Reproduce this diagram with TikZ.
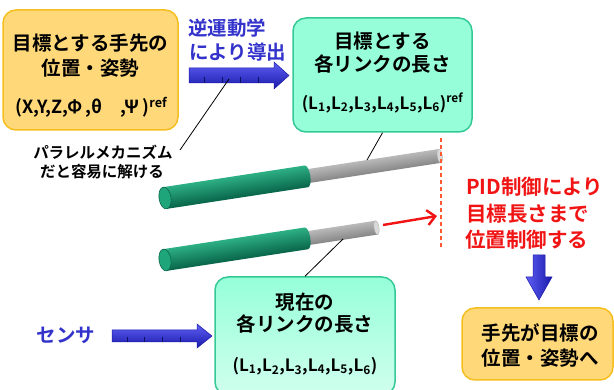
\documentclass[tikz,border=0pt]{standalone}
\usepackage{fontspec}
\setmainfont{Noto Sans CJK JP}[BoldFont=* Bold]
\usetikzlibrary{arrows.meta}

\definecolor{boxorange}{RGB}{255,216,122}
\definecolor{edgeorange}{RGB}{246,190,30}
\definecolor{boxgreen}{RGB}{150,255,218}
\definecolor{edgegreen}{RGB}{52,200,150}
\definecolor{labelblue}{RGB}{51,51,204}
\definecolor{arrowblueL}{RGB}{95,95,245}
\definecolor{arrowblueD}{RGB}{25,25,170}
\definecolor{ctrlred}{RGB}{240,20,20}
\definecolor{dashred}{RGB}{255,90,50}
\definecolor{rodgreen}{RGB}{22,150,110}
\definecolor{rodgreenL}{RGB}{45,175,132}
\definecolor{rodgreenD}{RGB}{8,100,72}
\definecolor{rodcap}{RGB}{30,165,122}

% one telescopic link: green outer tube (length #2) with a grey inner rod (total length #1)
\newcommand\drawrod[2]{%
  \shade[top color=gray!55, middle color=white, bottom color=gray!95] (#2-3,-7) rectangle (#1,7);
  \filldraw[fill=gray!30, draw=gray!60, line width=0.4pt] (#1,0) ellipse [x radius=2.5, y radius=7];
  \shade[top color=rodgreenL, middle color=rodgreen, bottom color=rodgreenD]
    (0,-11) -- (#2,-11) arc[start angle=-90, end angle=90, x radius=4, y radius=11] -- (0,11) -- cycle;
  \filldraw[fill=rodcap, draw=rodgreenD, line width=0.6pt] (0,0) ellipse [x radius=6, y radius=11];
}

\tikzset{
  box/.style={rounded corners=13pt, line width=1.5pt, inner sep=0pt},
  orangebox/.style={box, draw=edgeorange, fill=boxorange},
  greenbox/.style={box, draw=edgegreen, fill=boxgreen},
  txt/.style={font=\bfseries\fontsize{19.5}{23}\selectfont, inner sep=0pt},
  formula/.style={font=\bfseries\fontsize{17}{20}\selectfont, inner sep=0pt},
  bluetxt/.style={txt, text=labelblue},
  redtxt/.style={font=\bfseries\fontsize{20.5}{24}\selectfont, inner sep=0pt, text=ctrlred, anchor=west},
  smalltxt/.style={font=\bfseries\fontsize{15.5}{19}\selectfont, inner sep=0pt},
  bluearrow/.style={top color=arrowblueL, bottom color=arrowblueD, draw=arrowblueD, line width=0.5pt},
  tick/.style={draw=arrowblueD!60!black, line width=0.4pt},
  leader/.style={draw=black, line width=0.8pt},
}

\begin{document}
\begin{tikzpicture}[x=1pt, y=-1pt]
\useasboundingbox (0,0) rectangle (614,390);

% ---- links ----
\begin{scope}[transform canvas={shift={(165,198)}, rotate=8.7}]
  \drawrod{278}{143}
\end{scope}
\begin{scope}[transform canvas={shift={(165,260)}, rotate=8.7}]
  \drawrod{214}{143}
\end{scope}
\coordinate (rodTop) at (367,160);
\coordinate (rodBottom) at (343,239);

% ---- boxes ----
\node[orangebox, minimum width=175pt, minimum height=120pt] (goal) at (90.5,70) {};
\node[txt] (goalA) at (90.5,43) {目標とする手先の};
\node[txt] (goalB) at (90.5,68) {位置・姿勢};
\node[formula, font=\bfseries\fontsize{18}{21}\selectfont] (goalC) at (91.5,107) {(X,Y,Z,Φ\,,θ\quad,Ψ\,)\textsuperscript{ref}};

\node[greenbox, minimum width=179pt, minimum height=114pt] (target) at (382.5,75) {};
\node[txt] (targetA) at (382.5,41) {目標とする};
\node[txt] (targetB) at (382.5,64) {各リンクの長さ};
\node[formula] (targetC) at (382.5,103) {(L\textsubscript{1},L\textsubscript{2},L\textsubscript{3},L\textsubscript{4},L\textsubscript{5},L\textsubscript{6})\textsuperscript{ref}};

\begin{scope}
  \clip (0,0) rectangle (614,390);
  \node[greenbox, minimum width=180pt, minimum height=118pt,
        top color=boxgreen, middle color=boxgreen, bottom color=boxgreen!45!white] (current) at (305,336) {};
\end{scope}
\node[txt] (currentA) at (305,302) {現在の};
\node[txt] (currentB) at (305,324) {各リンクの長さ};
\node[formula] (currentC) at (305,366) {(L\textsubscript{1},L\textsubscript{2},L\textsubscript{3},L\textsubscript{4},L\textsubscript{5},L\textsubscript{6})};

\node[orangebox, minimum width=151pt, minimum height=72pt] (reached) at (537.5,344) {};
\node[txt] (reachedA) at (540,333) {手先が目標の};
\node[txt] (reachedB) at (540,358) {位置・姿勢へ};

% ---- labels ----
\node[bluetxt, anchor=west] (ikA) at (188,28) {逆運動学};
\node[bluetxt, anchor=west] (ikB) at (189,52) {により導出};
\node[bluetxt] (sensor) at (66,335) {センサ};
\node[smalltxt] (paraA) at (103,152) {パラレルメカニズム};
\node[smalltxt] (paraB) at (102,172) {だと容易に解ける};
\node[redtxt] (pidA) at (466,187) {PID制御により};
\node[redtxt] (pidB) at (466,214) {目標長さまで};
\node[redtxt] (pidC) at (465,240) {位置制御する};

% ---- blue block arrows ----
\path[bluearrow] (189,68) -- (274,68) -- (274,62) -- (289,75.5) -- (274,89) -- (274,83) -- (189,83) -- cycle;
\foreach \t in {204,222,240,258} \draw[tick] (\t,77) -- (\t,83);
\path[bluearrow] (112,330) -- (197,330) -- (197,324) -- (212,336) -- (197,348) -- (197,342) -- (112,342) -- cycle;
\foreach \t in {127,144,162,180} \draw[tick] (\t,337) -- (\t,342);
\path[bluearrow, left color=arrowblueL, right color=arrowblueD] (533,255) -- (545,255) -- (545,277) -- (552,277) -- (539,300) -- (526,277) -- (533,277) -- cycle;

% ---- leaders ----
\coordinate (paraTip) at (180,150);
\coordinate (ikShaft) at (229,79);
\draw[leader] (paraTip) -- (ikShaft);
\draw[leader] (target.south) -- (rodTop);
\draw[leader] (rodBottom) -- (current.north);

% ---- control target ----
\coordinate (limitTop) at (441,138);
\coordinate (limitBottom) at (441,247);
\draw[dashred, line width=1.4pt, dash pattern=on 4pt off 3pt] (limitTop) -- (limitBottom);
\coordinate (pushStart) at (383,225);
\coordinate (pushEnd) at (437,216);
\draw[ctrlred, line width=2.4pt, -{Straight Barb[length=8pt, width=15pt]}] (pushStart) -- (pushEnd);
\end{tikzpicture}
\end{document}
